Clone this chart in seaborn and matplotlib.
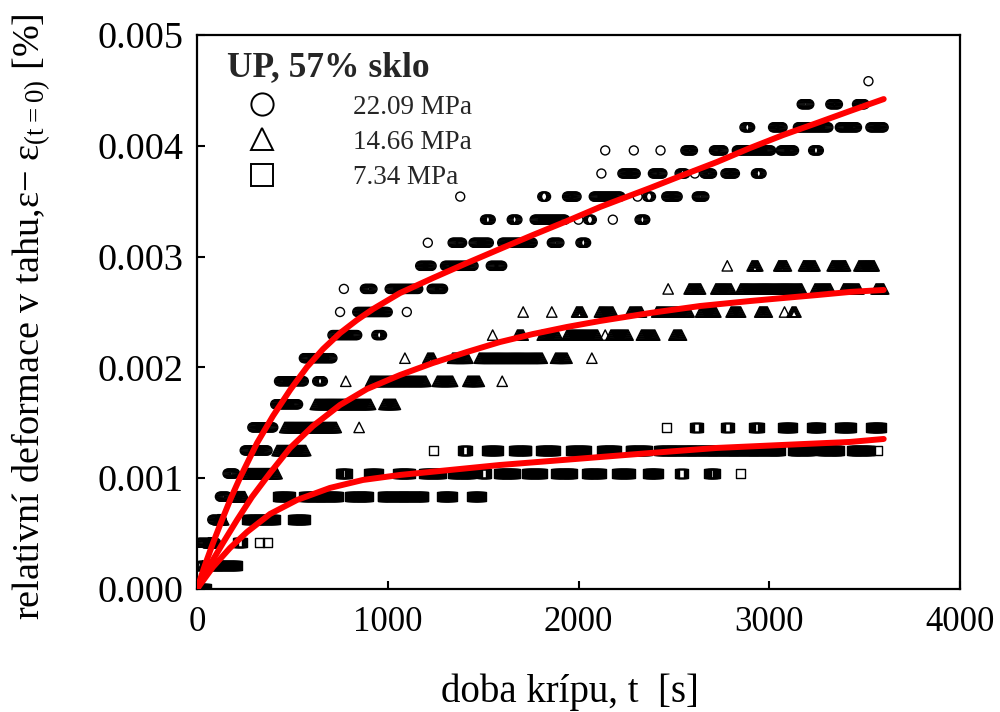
import numpy as np
import pandas as pd
import matplotlib
matplotlib.use("Agg")
import matplotlib.pyplot as plt
from matplotlib.lines import Line2D
import seaborn as sns

# Strain readings are quantised; each level is an integer multiple of this step [%]
STRAIN_STEP = 0.005 / 24
SAMPLE_DT = 5  # logging interval [s]

# Recorded runs per load: (level index, first sample time, last sample time) [s]
runs_22 = [
    (0, 0, 20), (1, 10, 30), (2, 10, 100), (3, 80, 130), (4, 120, 160),
    (5, 160, 200), (6, 250, 370), (7, 290, 400), (8, 410, 530),
    (9, 430, 560), (9, 630, 660), (10, 560, 710),
    (11, 710, 840), (11, 940, 970),
    (12, 750, 750), (12, 840, 1000), (12, 1100, 1100),
    (13, 770, 770), (13, 880, 920), (13, 1010, 1160), (13, 1230, 1290),
    (14, 1170, 1230), (14, 1300, 1450), (14, 1540, 1600),
    (15, 1210, 1210), (15, 1340, 1390), (15, 1450, 1530), (15, 1600, 1760),
    (15, 1860, 1900), (15, 2010, 2040),
    (16, 1510, 1540), (16, 1650, 1680), (16, 1770, 1930), (16, 2000, 2000),
    (16, 2050, 2070), (16, 2180, 2180), (16, 2320, 2350),
    (17, 1380, 1380), (17, 1810, 1830), (17, 1940, 1990), (17, 2080, 2220),
    (17, 2310, 2310), (17, 2360, 2380), (17, 2460, 2520), (17, 2620, 2660),
    (18, 2120, 2120), (18, 2230, 2300), (18, 2390, 2440), (18, 2530, 2560),
    (18, 2610, 2610), (18, 2660, 2700), (18, 2770, 2820), (18, 2930, 2960),
    (19, 2140, 2140), (19, 2290, 2290), (19, 2430, 2430), (19, 2560, 2600),
    (19, 2710, 2760), (19, 2830, 3010), (19, 3060, 3130), (19, 3230, 3260),
    (20, 2870, 2900), (20, 3020, 3070), (20, 3150, 3310), (20, 3370, 3460),
    (20, 3530, 3600),
    (21, 3170, 3210), (21, 3320, 3360), (21, 3460, 3500),
    (22, 3520, 3520),
]

runs_14 = [
    (0, 0, 10), (1, 30, 30), (2, 60, 90), (3, 110, 140), (4, 190, 250),
    (5, 250, 420), (6, 420, 570), (7, 460, 730), (7, 850, 850),
    (8, 620, 910), (8, 980, 1040),
    (9, 780, 780), (9, 910, 1200), (9, 1260, 1340), (9, 1420, 1480), (9, 1600, 1600),
    (10, 1090, 1090), (10, 1210, 1240), (10, 1340, 1420), (10, 1480, 1810),
    (10, 1880, 1940), (10, 2070, 2070),
    (11, 1550, 1550), (11, 1680, 1710), (11, 1810, 1890), (11, 1940, 2100),
    (11, 2140, 2140), (11, 2170, 2260), (11, 2330, 2400), (11, 2500, 2540),
    (12, 1710, 1710), (12, 1860, 1860), (12, 1990, 2020), (12, 2110, 2180),
    (12, 2270, 2330), (12, 2410, 2580), (12, 2640, 2720), (12, 2800, 2850),
    (12, 2950, 2990), (12, 3080, 3080), (12, 3120, 3140),
    (13, 2470, 2470), (13, 2580, 2640), (13, 2720, 2800), (13, 2850, 3170),
    (13, 3240, 3320), (13, 3390, 3470), (13, 3560, 3600),
    (14, 2780, 2780), (14, 2910, 2940), (14, 3050, 3090), (14, 3180, 3240),
    (14, 3330, 3400), (14, 3470, 3550),
]

runs_7 = [
    (0, 0, 50), (1, 40, 210),
    (2, 210, 240), (2, 330, 330), (2, 370, 370),
    (3, 260, 410), (3, 500, 570),
    (4, 420, 490), (4, 560, 740), (4, 800, 900), (4, 970, 1190),
    (4, 1280, 1340), (4, 1440, 1490),
    (5, 750, 790), (5, 900, 950), (5, 1050, 1120), (5, 1190, 1280),
    (5, 1340, 1440), (5, 1490, 1520), (5, 1580, 1670), (5, 1730, 1810),
    (5, 1880, 1970), (5, 2040, 2120), (5, 2200, 2270), (5, 2360, 2420),
    (5, 2530, 2550), (5, 2680, 2720), (5, 2850, 2850),
    (6, 1240, 1240), (6, 1390, 1420), (6, 1520, 1580), (6, 1660, 1730),
    (6, 1800, 1880), (6, 1960, 2040), (6, 2120, 2200), (6, 2270, 2360),
    (6, 2420, 3060), (6, 3120, 3220), (6, 3270, 3370), (6, 3430, 3530),
    (6, 3570, 3570),
    (7, 2460, 2460), (7, 2610, 2630), (7, 2770, 2790), (7, 2920, 2950),
    (7, 3070, 3120), (7, 3220, 3270), (7, 3370, 3430), (7, 3530, 3590),
]

# Fitted creep curves: time [s] and strain [%]
fit_t_22 = [0, 42, 84, 131, 178, 225, 315, 398, 488, 577, 661, 750, 839, 923,
            1064, 1237, 1415, 1588, 1761, 1940, 2113, 2375, 2548, 2726, 2899,
            3072, 3250, 3423, 3600]
fit_v_22 = [0.0, 0.000217, 0.000415, 0.000623, 0.000821, 0.001002, 0.001318,
            0.001561, 0.001796, 0.002004, 0.002166, 0.002310, 0.002428,
            0.002527, 0.002671, 0.002807, 0.002942, 0.003069, 0.003195,
            0.003321, 0.003448, 0.003619, 0.003736, 0.003854, 0.003980,
            0.004097, 0.004206, 0.004314, 0.004422]

fit_t_14 = [0, 68, 136, 210, 288, 383, 488, 608, 750, 891, 1064, 1237, 1415,
            1588, 1761, 1940, 2113, 2375, 2637, 2899, 3072, 3250, 3423, 3600]
fit_v_14 = [0.0, 0.000217, 0.000415, 0.000623, 0.000830, 0.001047, 0.001273,
            0.001471, 0.001661, 0.001805, 0.001931, 0.002040, 0.002139,
            0.002229, 0.002301, 0.002365, 0.002419, 0.002491, 0.002554,
            0.002599, 0.002626, 0.002653, 0.002681, 0.002699]

fit_t_7 = [0, 84, 173, 262, 383, 524, 697, 870, 1064, 1326, 1588, 1851, 2113,
           2375, 2726, 3072, 3423, 3600]
fit_v_7 = [0.0, 0.000199, 0.000370, 0.000514, 0.000677, 0.000803, 0.000912,
           0.000984, 0.001029, 0.001074, 0.001119, 0.001155, 0.001191,
           0.001227, 0.001273, 0.001300, 0.001327, 0.001354]

load_labels = ["22.09 MPa", "14.66 MPa", "7.34 MPa"]
series_markers = ["o", "^", "s"]
legend_title = "UP, 57% sklo"
x_ticks = [0, 1000, 2000, 3000, 4000]
y_ticks = [0.000, 0.001, 0.002, 0.003, 0.004, 0.005]


def expand(runs):
    t_all, v_all = [], []
    for level, t0, t1 in runs:
        ts = np.arange(t0, t1 + 1, SAMPLE_DT)
        t_all.extend(ts)
        v_all.extend([level * STRAIN_STEP] * len(ts))
    return pd.DataFrame({"t": t_all, "eps": v_all})


sns.set_theme(style="ticks")
plt.rcParams["font.family"] = ["Liberation Serif", "DejaVu Serif"]
plt.rcParams["mathtext.fontset"] = "custom"
plt.rcParams["mathtext.rm"] = "Liberation Serif"
plt.rcParams["mathtext.default"] = "regular"

fig = plt.figure(figsize=(10, 7.12), dpi=100)
ax = fig.add_axes([0.197, 0.1728, 0.763, 0.778])

marker_sizes = {"o": 42, "^": 56, "s": 42}
for runs, mk in zip([runs_22, runs_14, runs_7], series_markers):
    df = expand(runs)
    sns.scatterplot(data=df, x="t", y="eps", ax=ax, marker=mk,
                    s=marker_sizes[mk], facecolors="none", edgecolor="black",
                    linewidth=1.0, zorder=2, legend=False)

for ft, fv in [(fit_t_22, fit_v_22), (fit_t_14, fit_v_14), (fit_t_7, fit_v_7)]:
    sns.lineplot(x=ft, y=fv, ax=ax, color="#ff0000", linewidth=4.3,
                 sort=False, estimator=None, zorder=3, legend=False)

ax.set_xlim(0, 4000)
ax.set_ylim(0, 0.005)
ax.set_xticks(x_ticks)
ax.set_yticks(y_ticks)
ax.set_xticklabels([f"{v:d}" for v in x_ticks])
ax.set_yticklabels([f"{v:.3f}" for v in y_ticks])
ax.tick_params(direction="in", length=6, width=1.5,
               top=False, right=False, colors="black")
ax.tick_params(axis="x", pad=12, labelsize=25)
ax.tick_params(axis="y", pad=10, labelsize=27.5)
for sp in ax.spines.values():
    sp.set_visible(True)
    sp.set_linewidth(1.6)
    sp.set_color("black")

ax.set_xlabel("doba krípu, t  [s]", fontsize=28, color="black")
ax.set_ylabel("relativní deformace v tahu,ε− ε$_{(t=0)}$ [%]",
              fontsize=27.5, color="black")
ax.xaxis.set_label_coords(0.489, -0.152)
ax.yaxis.set_label_coords(-0.19, 0.491)

handles = [Line2D([], [], marker=m, linestyle="none", markersize=16,
                  markerfacecolor="none", markeredgecolor="black",
                  markeredgewidth=1.4) for m in series_markers]
leg = ax.legend(handles, load_labels, title=legend_title, loc="upper left",
                bbox_to_anchor=(0.021, 0.995), frameon=False, borderpad=0,
                alignment="left", handlelength=2.6, handletextpad=2.05,
                labelspacing=0.38, prop={"size": 19.5, "family": "Liberation Serif"},
                title_fontproperties={"size": 25.5, "weight": "bold",
                                      "family": "Liberation Serif"})

fig.savefig("out.png", dpi=100)
